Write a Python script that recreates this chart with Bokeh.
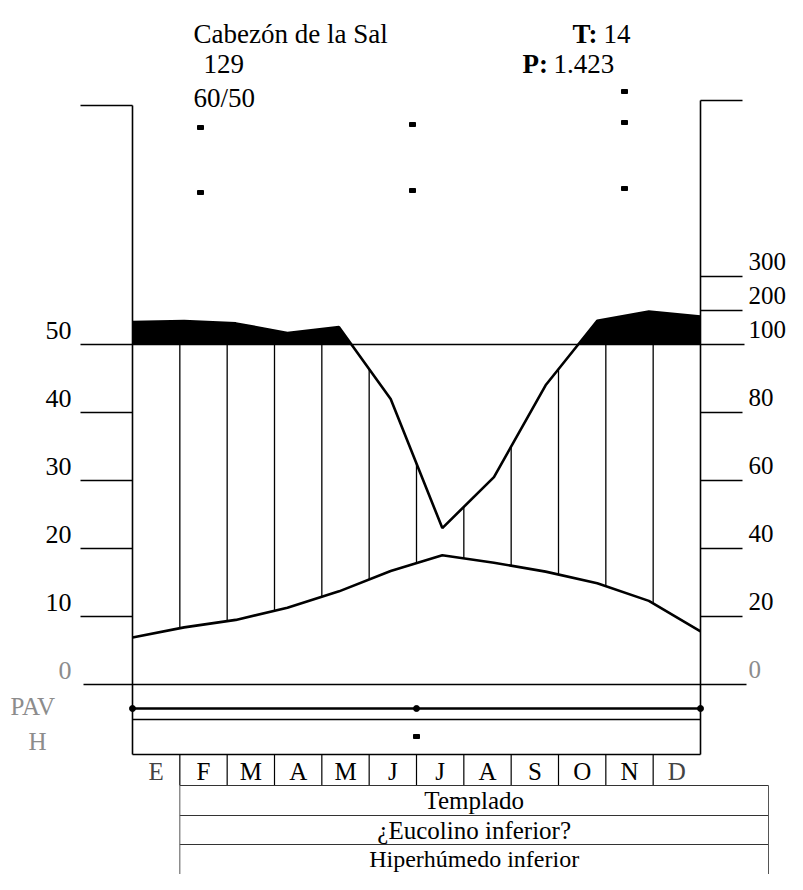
import numpy as np
from bokeh.plotting import figure
from bokeh.models import Range1d
from bokeh.core.properties import value
from bokeh.embed import file_html
from bokeh.resources import INLINE

# ---------------- data ----------------
months = ["E", "F", "M", "A", "M", "J", "J", "A", "S", "O", "N", "D"]
temperature = [6.9, 8.4, 9.5, 11.3, 13.7, 16.7, 19.0, 17.9, 16.6, 14.9, 12.3, 7.8]
precipitation = [166, 169, 162, 134, 151, 84, 46, 61, 88, 170, 197, 182]
temp_ticks = [0, 10, 20, 30, 40, 50]
precip_ticks = [0, 20, 40, 60, 80, 100, 200, 300]
station = "Cabezón de la Sal"
altitude = "129"
years = "60/50"
t_mean = "14"
p_total = "1.423"
bands = ["Templado", "¿Eucolino inferior?", "Hiperhúmedo inferior"]

# ---------------- layout helpers (picture pixels -> data units) ----------------
W, H = 787, 874
X0, X12 = 132, 700
Y0, Y50 = 684, 344
PXM = (X12 - X0) / 12.0
PXC = (Y0 - Y50) / 50.0


def X(px):
    return (px - X0) / PXM


def Y(py):
    return (Y0 - py) / PXC


def pscale(P):
    P = np.asarray(P, dtype=float)
    return np.where(P <= 100, P / 2.0, 50 + (P - 100) / 20.0)


FONT = value("Liberation Serif")
GREY = "#8c8c8c"

p = figure(width=W, height=H, x_range=Range1d(X(0), X(W)),
           y_range=Range1d(Y(H), Y(0)), output_backend="svg",
           toolbar_location=None, x_axis_location=None, y_axis_location=None,
           min_border=0, background_fill_color="white")
p.grid.visible = False
p.outline_line_color = None
p.min_border_left = p.min_border_right = p.min_border_top = p.min_border_bottom = 0

# ---------------- curves ----------------
xs = np.linspace(0, 12, len(months))
yT = np.array(temperature, dtype=float)
yP = pscale(precipitation)

xd = np.linspace(0, 12, 2401)
pd_ = np.interp(xd, xs, yP)
p.varea(x=xd, y1=np.full_like(xd, 50.0), y2=np.maximum(pd_, 50.0), fill_color="black")

hx = np.arange(1, 12)
t_at = np.interp(hx, xs, yT)
p_at = np.minimum(np.interp(hx, xs, yP), 50.0)
p.segment(x0=hx, y0=t_at, x1=hx, y1=p_at, line_color="black", line_width=1.3)

p.line(xs, yT, line_color="black", line_width=2.6)
p.line(xs, yP, line_color="black", line_width=2.6)

# ---------------- frame ----------------
LW = 1.6
p.segment(x0=[0, 12], y0=[Y(105), Y(100)], x1=[0, 12], y1=[Y(754), Y(754)],
          line_color="black", line_width=LW)
p.segment(x0=[X(80), 12], y0=[Y(105), Y(100)], x1=[0, X(742)], y1=[Y(105), Y(100)],
          line_color="black", line_width=LW)

# left ticks (temperature)
lt = [t for t in temp_ticks if t not in (0, 50)]
p.segment(x0=[X(80)] * len(lt), y0=lt, x1=[0] * len(lt), y1=lt, line_color="black", line_width=LW)
p.segment(x0=[X(80)], y0=[50], x1=[X(744)], y1=[50], line_color="black", line_width=LW)
p.segment(x0=[X(83)], y0=[0], x1=[X(746)], y1=[0], line_color="black", line_width=LW)

# right ticks (precipitation)
rt = [v for v in precip_ticks if v not in (0, 100)]
ry = list(pscale(rt))
p.segment(x0=[12] * len(rt), y0=ry, x1=[X(742)] * len(rt), y1=ry, line_color="black", line_width=LW)

OFF = 14 / PXC
p.text(x=[X(71)] * len(temp_ticks), y=[t + OFF for t in temp_ticks],
       text=[str(t) for t in temp_ticks], text_font=FONT, text_font_size="26px",
       text_align="right", text_baseline="middle",
       text_color=[GREY if t == 0 else "black" for t in temp_ticks])
p.text(x=[X(748)] * len(precip_ticks), y=list(pscale(precip_ticks) + 15 / PXC),
       text=[str(v) for v in precip_ticks], text_font=FONT, text_font_size="25px",
       text_align="left", text_baseline="middle",
       text_color=[GREY if v == 0 else "black" for v in precip_ticks])

# ---------------- PAV / H box ----------------
p.segment(x0=[0], y0=[Y(708)], x1=[12], y1=[Y(708)], line_color="black", line_width=2.6)
p.scatter(x=[0, 6, 12], y=[Y(708)] * 3, size=6, color="black")
p.segment(x0=[0, 0], y0=[Y(719), Y(754)], x1=[12, 12], y1=[Y(719), Y(754)],
          line_color="black", line_width=LW)
p.rect(x=[6], y=[Y(736)], width=6, height=4, width_units="screen", height_units="screen",
       color="black")
p.text(x=[X(10), X(37)], y=[Y(706), Y(741)], text=["PAV", "H"], text_font=FONT,
       text_font_size="25px", text_align=["left", "center"], text_baseline="middle",
       text_color=GREY)

# ---------------- month row ----------------
mb = np.arange(1, 12)
p.segment(x0=mb, y0=[Y(754)] * 11, x1=mb, y1=[Y(785)] * 11, line_color="black", line_width=1.2)
p.text(x=np.arange(12) + 0.5, y=[Y(771)] * 12, text=months, text_font=FONT,
       text_font_size="25px", text_align="center", text_baseline="middle",
       text_color=["#444"] + ["black"] * 10 + ["#444"])

# ---------------- bottom table ----------------
TL, TR = 1.0, X(768)
rows_y = [Y(785), Y(815), Y(844)]
p.segment(x0=[TL] * 3, y0=rows_y, x1=[TR] * 3, y1=rows_y, line_color="#333", line_width=1.2)
p.segment(x0=[TL, TR], y0=[rows_y[0]] * 2, x1=[TL, TR], y1=[Y(H)] * 2,
          line_color="#555", line_width=1.0)
p.text(x=[(TL + TR) / 2] * 2, y=[Y(800), Y(829.5)], text=bands[:2], text_font=FONT,
       text_font_size="25px", text_align="center", text_baseline="middle", text_color="black")
p.text(x=[(TL + TR) / 2], y=[Y(858)], text=bands[2:], text_font=FONT,
       text_font_size="24px", text_align="center", text_baseline="middle",
       text_color="black")

# ---------------- header ----------------
p.text(x=[X(193), X(203), X(193)], y=[Y(33), Y(63), Y(97)], text=[station, altitude, years],
       text_font=FONT, text_font_size="27px", text_align="left", text_baseline="alphabetic",
       text_color="black")
p.text(x=[X(572), X(522)], y=[Y(33), Y(63)], text=["T:", "P:"], text_font=FONT,
       text_font_size="27px", text_font_style="bold", text_align="left",
       text_baseline="alphabetic", text_color="black")
p.text(x=[X(603), X(553)], y=[Y(33), Y(63)], text=[t_mean, p_total], text_font=FONT,
       text_font_size="27px", text_align="left", text_baseline="alphabetic", text_color="black")

dash_px = [(624, 91), (200, 127), (412, 124), (624, 122), (200, 192), (412, 190), (624, 188)]
p.rect(x=[X(a) for a, b in dash_px], y=[Y(b) for a, b in dash_px], width=6, height=4,
       width_units="screen", height_units="screen", color="black")

open("out.html", "w").write(file_html(p, INLINE))
